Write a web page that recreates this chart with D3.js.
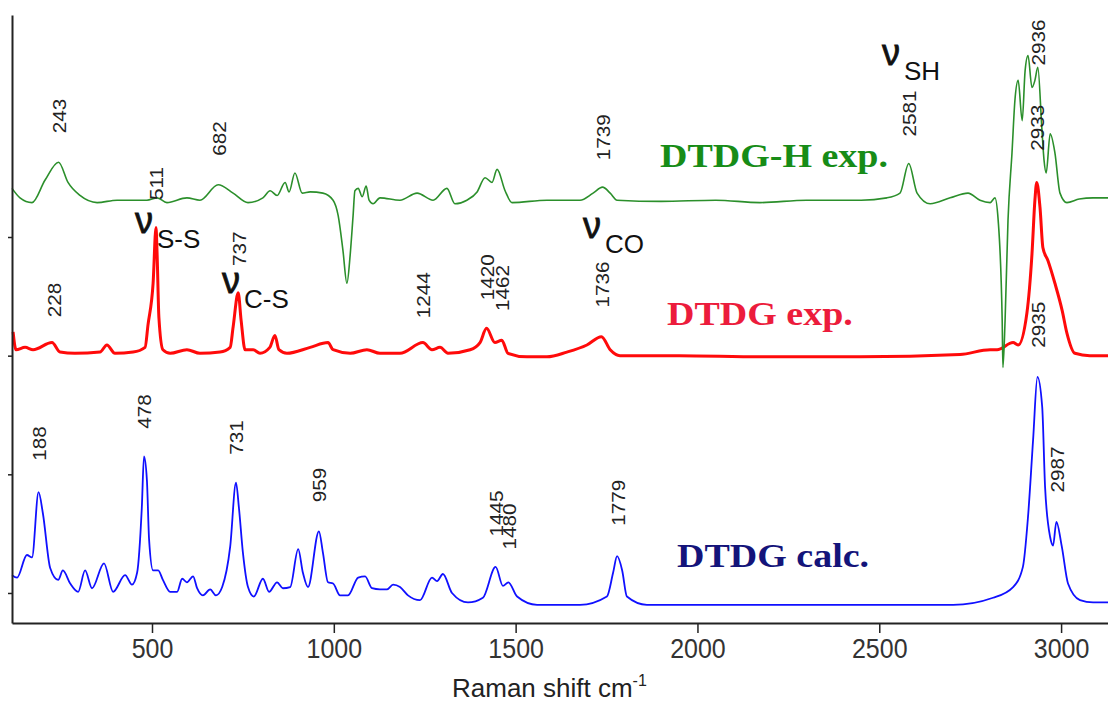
<!DOCTYPE html>
<html>
<head>
<meta charset="utf-8">
<script src="https://cdn.jsdelivr.net/npm/d3@7"></script>
<style>
    body { margin: 0; background: #fff; }
    svg { display: block; }
</style>
</head>
<body>
<script>
//spectra: [Raman shift cm-1, intensity a.u. (offset)]
var greenH = [
    [115, 341], [137, 333], [170, 329], [206, 348], [243, 363], [269, 346], [302, 335],
    [349, 329], [404, 331], [486, 331], [514, 333], [541, 329], [596, 333], [632, 331],
    [682, 344], [723, 337], [764, 329], [805, 333], [825, 339], [844, 335], [866, 346],
    [877, 338], [893, 354], [913, 337], [935, 338], [970, 337], [998, 331], [1012, 318],
    [1025, 289], [1036, 261], [1045, 285], [1053, 318], [1058, 339], [1067, 341], [1078, 334],
    [1089, 343], [1097, 331], [1108, 328], [1127, 333], [1182, 331], [1229, 337], [1273, 331],
    [1311, 341], [1333, 328], [1366, 331], [1394, 338], [1416, 350], [1435, 346], [1449, 357],
    [1471, 339], [1490, 329], [1586, 331], [1677, 331], [1713, 337], [1739, 342], [1760, 337],
    [1779, 331], [1900, 330], [2050, 331], [2172, 329], [2300, 331], [2450, 331], [2521, 333],
    [2557, 337], [2581, 362], [2604, 337], [2640, 328], [2695, 333], [2744, 337], [2777, 331],
    [2805, 329], [2818, 333], [2827, 314], [2838, 230], [2840, 190], [2846, 230], [2854, 314],
    [2865, 371], [2873, 415], [2882, 432], [2893, 398], [2901, 440], [2909, 453], [2920, 426],
    [2928, 432], [2936, 443], [2947, 392], [2953, 365], [2959, 354], [2970, 387], [2983, 371],
    [2997, 337], [3016, 329], [3050, 332], [3088, 333], [3129, 333]
];

var redExp = [
    [118, 220], [126, 205], [151, 207], [173, 205], [225, 211], [247, 203], [288, 202],
    [357, 203], [376, 209], [398, 202], [448, 203], [481, 207], [489, 226], [503, 261],
    [511, 308], [514, 286], [519, 232], [530, 205], [550, 202], [596, 205], [632, 202],
    [687, 203], [715, 207], [723, 224], [737, 253], [745, 230], [756, 205], [778, 205],
    [797, 202], [824, 207], [838, 217], [849, 205], [871, 202], [935, 207], [984, 211],
    [998, 205], [1045, 202], [1091, 205], [1127, 202], [1182, 202], [1245, 211], [1270, 205],
    [1292, 207], [1314, 202], [1375, 205], [1402, 211], [1420, 223], [1443, 211], [1462, 213],
    [1479, 202], [1531, 199], [1586, 199], [1641, 203], [1696, 209], [1736, 216], [1760, 205],
    [1787, 200], [1950, 200], [2172, 199], [2447, 199], [2722, 201], [2805, 205], [2824, 205],
    [2868, 211], [2882, 209], [2906, 236], [2920, 286], [2928, 331], [2933, 346], [2942, 325],
    [2950, 291], [2964, 280], [2983, 261], [3003, 238], [3016, 219], [3038, 202], [3079, 200],
    [3129, 200]
];

var blueCalc = [
    [115, 15], [129, 13], [156, 32], [170, 30], [188, 85], [200, 67], [220, 21], [242, 11],
    [255, 19], [275, 8], [297, 1], [316, 19], [335, 4], [368, 25], [393, 1], [426, 15],
    [445, 7], [459, 17], [472, 72], [478, 115], [486, 95], [492, 45], [503, 19], [517, 19],
    [530, 11], [550, 1], [569, 1], [583, 12], [596, 9], [613, 14], [624, 4], [640, -2],
    [660, 3], [676, -2], [693, 5], [715, 39], [731, 93], [739, 72], [750, 34], [764, 5],
    [780, -3], [805, 12], [822, 1], [844, 9], [860, 4], [880, 5], [902, 37], [915, 17],
    [929, 5], [959, 52], [970, 34], [984, 9], [998, 8], [1017, -2], [1039, -2], [1067, 13],
    [1086, 14], [1105, 4], [1127, 3], [1146, 3], [1163, 7], [1182, 5], [1204, -2], [1237, -6],
    [1270, 13], [1284, 10], [1300, 16], [1325, 0], [1369, -8], [1410, -4], [1445, 22],
    [1465, 6], [1480, 9], [1504, -3], [1559, -10], [1677, -10], [1751, -3], [1768, 17],
    [1779, 31], [1793, 19], [1806, -3], [1861, -10], [2300, -10], [2703, -10], [2813, -4],
    [2868, 5], [2895, 22], [2909, 64], [2923, 129], [2935, 182], [2948, 157], [2956, 89],
    [2970, 47], [2978, 40], [2987, 60], [3002, 39], [3019, 8], [3052, -6], [3088, -8],
    [3129, -8]
];

//peak labels: [text, height in intensity units]
var greenPeaks = [["243", 402], ["682", 383], ["511", 345], ["1739", 384], ["2581", 404],
    ["2936", 464], ["2933", 392]];
var redPeaks = [["228", 247], ["737", 290], ["1244", 251], ["1420", 266], ["1462", 257],
    ["1736", 260], ["2935", 226]];
var bluePeaks = [["188", 126], ["478", 153], ["731", 131], ["959", 91], ["1445", 67],
    ["1480", 56], ["1779", 76], ["2987", 104]];

var xTicks = [500, 1000, 1500, 2000, 2500, 3000];
var yTicks = [0, 100, 200, 300];

//frame
var width = 1108,
    height = 702;

var svg = d3.select("body")
    .append("svg")
    .attr("width", width)
    .attr("height", height);

var xScale = d3.scaleLinear()
    .domain([115, 3129])
    .range([12, 1108]);

var yScale = d3.scaleLinear()
    .domain([-25.3, 487.1])
    .range([623, 15]);

var line = d3.line()
    .curve(d3.curveMonotoneX)
    .x(function (d) { return xScale(d[0]); })
    .y(function (d) { return yScale(d[1]); });

//spectra
function drawSpectrum(data, color, w) {
    svg.append("path")
        .datum(data)
        .attr("d", line)
        .attr("fill", "none")
        .attr("stroke", color)
        .attr("stroke-width", w)
        .attr("stroke-linejoin", "round");
}

drawSpectrum(redExp, "#ff0a0a", 3);
drawSpectrum(blueCalc, "#1010ff", 1.8);
drawSpectrum(greenH, "#2b8f2b", 1.6);

//axes
var xAxis = svg.append("g")
    .attr("transform", "translate(0,623)")
    .call(d3.axisBottom(xScale).tickValues(xTicks).tickFormat(d3.format("d"))
        .tickSize(10).tickSizeOuter(0).tickPadding(4));

xAxis.select(".domain").attr("stroke", "#222").attr("stroke-width", 2);
xAxis.selectAll(".tick line").attr("stroke", "#222").attr("stroke-width", 1.5);
xAxis.selectAll(".tick text")
    .attr("font-family", "Liberation Sans, Arial, sans-serif")
    .attr("font-size", 25)
    .attr("fill", "#333")
    .attr("transform", "scale(1,1.1)");

var yAxis = svg.append("g")
    .attr("transform", "translate(12,0)")
    .call(d3.axisLeft(yScale).tickValues(yTicks).tickSize(4).tickSizeOuter(0).tickFormat(""));

yAxis.select(".domain").attr("stroke", "#222").attr("stroke-width", 2);
yAxis.selectAll(".tick line").attr("stroke", "#222").attr("stroke-width", 1.5);

//axis title
var xTitle = svg.append("text")
    .attr("x", 452)
    .attr("y", 697)
    .attr("font-family", "Liberation Sans, Arial, sans-serif")
    .attr("font-size", 26)
    .attr("fill", "#222")
    .text("Raman shift cm");
xTitle.append("tspan")
    .attr("font-size", 16)
    .attr("dy", -11)
    .text("-1");

//rotated peak labels
function peakLabels(peaks) {
    svg.selectAll(null)
        .data(peaks)
        .enter()
        .append("text")
        .attr("transform", function (d) {
            return "translate(" + (xScale(+d[0]) + 1) + "," + yScale(d[1]) + ") scale(1,1.15) rotate(-90)";
        })
        .attr("text-anchor", "middle")
        .attr("dominant-baseline", "central")
        .attr("font-family", "Liberation Sans, Arial, sans-serif")
        .attr("font-size", 18)
        .attr("fill", "#222")
        .text(function (d) { return d[0]; });
}

peakLabels(greenPeaks);
peakLabels(redPeaks);
peakLabels(bluePeaks);

//series names
function seriesName(txt, x, y, color) {
    svg.append("text")
        .attr("transform", "translate(" + x + "," + y + ") scale(1,0.87)")
        .attr("font-family", "Liberation Serif, Times New Roman, serif")
        .attr("font-weight", "bold")
        .attr("font-size", 38)
        .attr("fill", color)
        .text(txt);
}

seriesName("DTDG-H exp.", 660, 167, "#178c17");
seriesName("DTDG exp.", 667, 325, "#ec1c3c");
seriesName("DTDG calc.", 677, 567, "#14147a");

//vibration mode labels
function nuLabel(sub, x, y) {
    var t = svg.append("text")
        .attr("font-family", "Liberation Sans, Arial, sans-serif")
        .attr("fill", "#111");
    t.append("tspan")
        .attr("x", x)
        .attr("y", y)
        .attr("font-size", 36)
        .attr("stroke", "#111")
        .attr("stroke-width", 0.8)
        .text("ν");
    t.append("tspan")
        .attr("x", x + 22)
        .attr("y", y + 15)
        .attr("font-size", 26)
        .text(sub);
}

nuLabel("S-S", 135, 233);
nuLabel("C-S", 222, 293);
nuLabel("CO", 583, 238);
nuLabel("SH", 882, 65);
</script>
</body>
</html>
